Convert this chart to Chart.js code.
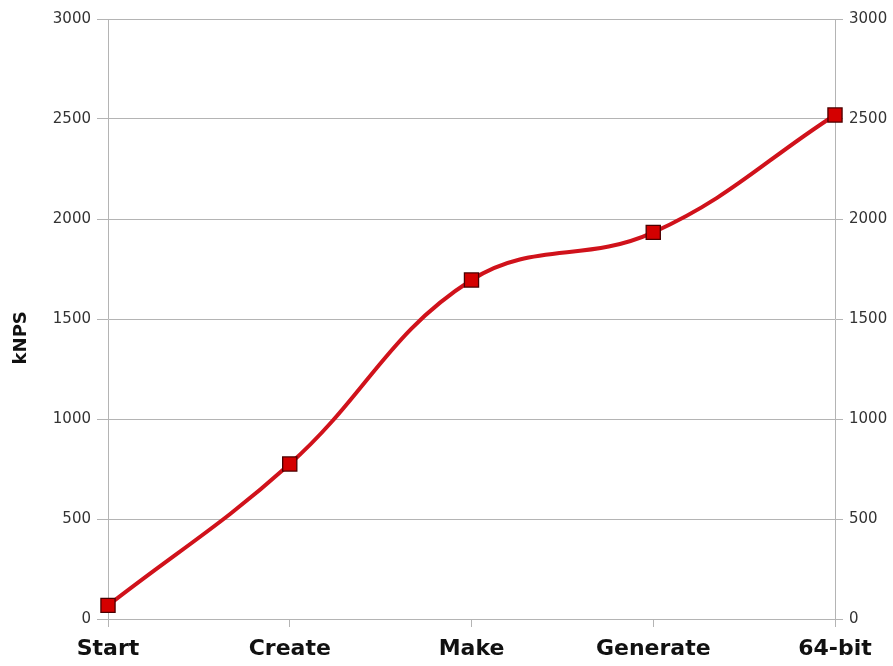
<!DOCTYPE html>
<html>
<head>
<meta charset="utf-8">
<script src="https://cdn.jsdelivr.net/npm/chart.js@4/dist/chart.umd.min.js"></script>
<style>
  html, body { margin: 0; padding: 0; background: #fff; }
  #wrap { width: 893px; height: 666px; }
</style>
</head>
<body>
<div id="wrap"><canvas id="chart" width="893" height="666"></canvas></div>
<script>
// values
const stages = ["Start", "Create", "Make", "Generate", "64-bit"];
const knps = [68, 775, 1695, 1933, 2520];
const yMin = 0, yMax = 3000, yStep = 500;

const gridGray = "#b4b4b4";
const tickFont = { family: "'DejaVu Sans', sans-serif", size: 15 };
const plain = v => String(v);

new Chart(document.getElementById("chart"), {
  type: "line",
  data: {
    labels: stages,
    datasets: [{
      label: "kNPS",
      data: knps,
      borderColor: "#d0121b",
      borderWidth: 4,
      tension: 0.4,
      pointStyle: "rect",
      pointRadius: 10,
      pointHoverRadius: 10,
      pointBackgroundColor: "#d40000",
      pointBorderColor: "#4a0000",
      pointBorderWidth: 1.3,
      yAxisID: "y"
    }]
  },
  options: {
    responsive: false,
    animation: false,
    layout: { padding: { top: 19, right: 0, left: 0, bottom: 0 } },
    plugins: { legend: { display: false }, tooltip: { enabled: false } },
    scales: {
      x: {
        offset: false,
        grid: { drawOnChartArea: false, color: gridGray, tickLength: 8 },
        border: { color: gridGray },
        ticks: { color: "#111", padding: 9, font: { family: "'DejaVu Sans', sans-serif", size: 22, weight: "bold" } },
        afterFit: s => { s.height = 47; }
      },
      y: {
        position: "left",
        min: yMin, max: yMax,
        grid: { color: gridGray, tickLength: 11 },
        border: { color: gridGray },
        ticks: { stepSize: yStep, color: "#333", padding: 6, font: tickFont, callback: plain },
        title: {
          display: true,
          text: "kNPS      ",
          color: "#111",
          padding: { top: 11, bottom: 0 },
          font: { family: "'DejaVu Sans', sans-serif", size: 18, weight: "bold" }
        },
        afterFit: s => { s.width = 108; }
      },
      y2: {
        position: "right",
        min: yMin, max: yMax,
        grid: { drawOnChartArea: false, color: gridGray, tickLength: 8 },
        border: { color: gridGray },
        ticks: { stepSize: yStep, color: "#333", padding: 6, font: tickFont, callback: plain },
        afterFit: s => { s.width = 58; }
      }
    }
  }
});
</script>
</body>
</html>
